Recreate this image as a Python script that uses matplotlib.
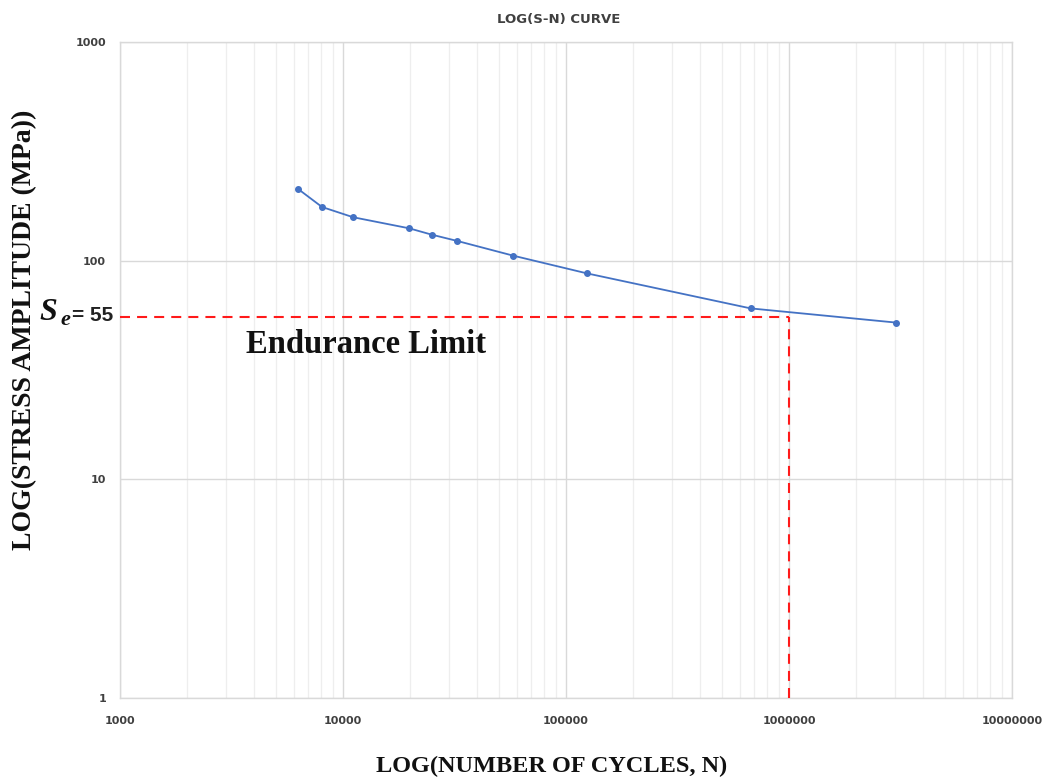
import numpy as np
import matplotlib
matplotlib.use('Agg')
import matplotlib.pyplot as plt
from matplotlib.ticker import FixedLocator, LogLocator, NullFormatter, FuncFormatter

# S-N data
cycles = [6280, 8050, 11100, 19800, 25000, 32600, 58000, 124000, 673000, 3020000]
stress = [213, 176, 158, 140.6, 131.5, 123, 105.4, 87.5, 60.5, 52.1]

endurance_limit = 55
endurance_cycles = 1000000

x_ticks = [1000, 10000, 100000, 1000000, 10000000]
y_ticks = [1, 10, 100, 1000]

W, H = 1051, 783
fig = plt.figure(figsize=(W / 100, H / 100), dpi=100)
ax = fig.add_axes([120 / W, 1 - 698 / H, (1012 - 120) / W, (698 - 42) / H])

ax.set_xscale('log')
ax.set_yscale('log')
ax.set_xlim(1000, 10000000)
ax.set_ylim(1, 1000)

# grid
ax.xaxis.set_major_locator(FixedLocator(x_ticks))
ax.yaxis.set_major_locator(FixedLocator(y_ticks))
ax.xaxis.set_minor_locator(LogLocator(base=10, subs=np.arange(2, 10)))
ax.yaxis.set_minor_locator(FixedLocator([]))
ax.xaxis.set_minor_formatter(NullFormatter())
ax.xaxis.set_major_formatter(FuncFormatter(lambda v, p: '%d' % v))
ax.yaxis.set_major_formatter(FuncFormatter(lambda v, p: '%d' % v))
ax.grid(True, which='major', color='#d9d9d9', lw=1.0)
ax.grid(True, which='minor', axis='x', color='#eeeeee', lw=0.9)
ax.set_axisbelow(True)
for s in ax.spines.values():
    s.set_color('#d9d9d9')
    s.set_linewidth(1.0)
ax.tick_params(which='both', length=0)
ax.tick_params(axis='x', pad=13, labelsize=8, labelcolor='#404040')
ax.tick_params(axis='y', pad=10, labelsize=8, labelcolor='#404040')
for lab in ax.get_xticklabels() + ax.get_yticklabels():
    lab.set_fontweight('bold')

# data
ax.plot(cycles, stress, color='#4472c4', lw=1.3, marker='o', ms=4, zorder=4)

# endurance limit lines
ax.plot([1000, endurance_cycles], [endurance_limit, endurance_limit], color='#ff1a1a',
        lw=1.5, dashes=(4.8, 3.4), zorder=3)
ax.plot([endurance_cycles, endurance_cycles], [1, endurance_limit], color='#ff1a1a',
        lw=1.5, dashes=(4.8, 3.4), zorder=3)

fig.text(246 / W, 1 - 353 / H, 'Endurance Limit', fontsize=23.5, fontweight='bold',
         family='Liberation Serif', color='#111111', va='baseline')

# S_e = 55 label
fig.text(39 / W, 1 - 320 / H, 'S', fontsize=23, fontweight='bold', style='italic',
         family='Liberation Serif', va='baseline', color='#111111')
fig.text(60 / W, 1 - 325 / H, 'e', fontsize=16, fontweight='bold', style='italic',
         family='Liberation Serif', va='baseline', color='#111111')
fig.text(72 / W, 1 - 321 / H, '= 55', fontsize=15, fontweight='bold',
         family='Liberation Sans', va='baseline', color='#222222')

fig.text(559 / W, 1 - 19 / H, 'LOG(S-N) CURVE', fontsize=9.5, ha='center', va='center',
         color='#404040', family='Liberation Sans Narrow', fontweight='bold')

fig.text(552 / W, 1 - 766 / H, 'LOG(NUMBER OF CYCLES, N)', fontsize=17.5, fontweight='bold',
         family='Liberation Serif', ha='center', va='center', color='#111111')
fig.text(25 / W, 1 - 330 / H, 'LOG(STRESS AMPLITUDE (MPa))', fontsize=20, fontweight='bold',
         family='Liberation Serif', ha='center', va='center', rotation=90, color='#111111')

fig.savefig('out.png', dpi=100)
